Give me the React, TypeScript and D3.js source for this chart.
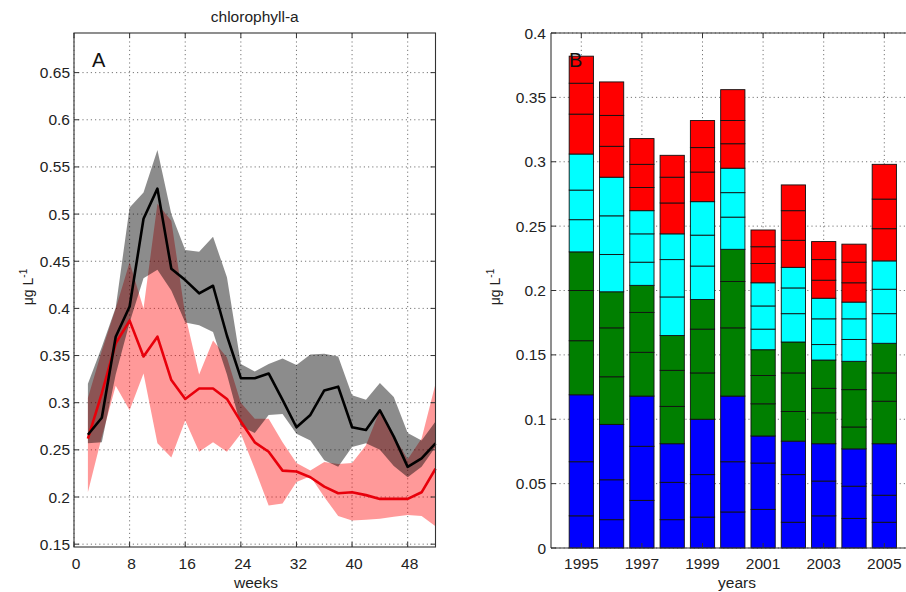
import React from "react";
import * as d3 from "d3";

// ---------- Panel A data (weekly chlorophyll-a) ----------
const weeks = [2, 4, 6, 8, 10, 12, 14, 16, 18, 20, 22, 24, 26, 28, 30, 32, 34, 36, 38, 40, 42, 44, 46, 48, 50, 52];
const blackMean = [0.266, 0.284, 0.370, 0.402, 0.495, 0.527, 0.442, 0.430, 0.416, 0.424, 0.371, 0.326, 0.326, 0.331, 0.303, 0.274, 0.287, 0.313, 0.317, 0.274, 0.271, 0.292, 0.264, 0.232, 0.241, 0.257];
const blackUpper = [0.320, 0.359, 0.401, 0.507, 0.523, 0.568, 0.500, 0.462, 0.460, 0.476, 0.433, 0.341, 0.333, 0.341, 0.347, 0.340, 0.351, 0.352, 0.349, 0.308, 0.303, 0.321, 0.306, 0.268, 0.260, 0.280];
const blackLower = [0.257, 0.258, 0.330, 0.385, 0.432, 0.441, 0.419, 0.385, 0.382, 0.375, 0.330, 0.275, 0.268, 0.287, 0.288, 0.267, 0.260, 0.239, 0.232, 0.253, 0.257, 0.250, 0.233, 0.221, 0.232, 0.253];
const redMean = [0.262, 0.310, 0.363, 0.387, 0.349, 0.370, 0.324, 0.304, 0.315, 0.315, 0.304, 0.280, 0.258, 0.248, 0.228, 0.227, 0.221, 0.211, 0.204, 0.205, 0.202, 0.198, 0.198, 0.198, 0.205, 0.230];
const redUpper = [0.305, 0.355, 0.400, 0.449, 0.400, 0.511, 0.493, 0.393, 0.330, 0.366, 0.348, 0.300, 0.283, 0.283, 0.258, 0.236, 0.228, 0.237, 0.235, 0.236, 0.255, 0.292, 0.265, 0.240, 0.262, 0.320];
const redLower = [0.205, 0.264, 0.318, 0.292, 0.331, 0.257, 0.242, 0.281, 0.248, 0.258, 0.248, 0.267, 0.230, 0.191, 0.193, 0.216, 0.222, 0.200, 0.180, 0.175, 0.176, 0.177, 0.179, 0.181, 0.180, 0.169];

const weekTicks = [0, 8, 16, 24, 32, 40, 48];
const aTicksY = [0.15, 0.2, 0.25, 0.3, 0.35, 0.4, 0.45, 0.5, 0.55, 0.6, 0.65];

// ---------- Panel B data (monthly stacks per year) ----------
const years = [1995, 1996, 1997, 1998, 1999, 2000, 2001, 2002, 2003, 2004, 2005];
const jan = [0.025, 0.022, 0.037, 0.022, 0.024, 0.028, 0.030, 0.020, 0.025, 0.023, 0.020];
const feb = [0.042, 0.031, 0.042, 0.029, 0.033, 0.039, 0.036, 0.037, 0.027, 0.025, 0.021];
const mar = [0.052, 0.043, 0.039, 0.030, 0.043, 0.051, 0.021, 0.026, 0.029, 0.029, 0.040];
const apr = [0.042, 0.037, 0.034, 0.029, 0.036, 0.053, 0.025, 0.023, 0.024, 0.017, 0.033];
const may = [0.039, 0.038, 0.031, 0.028, 0.034, 0.036, 0.022, 0.030, 0.019, 0.029, 0.022];
const jun = [0.030, 0.028, 0.021, 0.027, 0.023, 0.025, 0.020, 0.024, 0.022, 0.022, 0.023];
const jul = [0.025, 0.029, 0.018, 0.030, 0.026, 0.025, 0.016, 0.022, 0.012, 0.017, 0.023];
const aug = [0.023, 0.030, 0.022, 0.029, 0.024, 0.019, 0.018, 0.020, 0.020, 0.016, 0.019];
const sep = [0.028, 0.030, 0.018, 0.020, 0.026, 0.019, 0.018, 0.016, 0.016, 0.013, 0.022];
const oct = [0.031, 0.024, 0.018, 0.024, 0.023, 0.019, 0.015, 0.021, 0.014, 0.015, 0.025];
const nov = [0.024, 0.024, 0.018, 0.020, 0.019, 0.018, 0.013, 0.023, 0.016, 0.016, 0.023];
const dec = [0.021, 0.026, 0.020, 0.017, 0.021, 0.024, 0.013, 0.020, 0.014, 0.014, 0.027];
const months = [jan, feb, mar, apr, may, jun, jul, aug, sep, oct, nov, dec];
const seasonColors = ["#0000ff", "#007f00", "#00ffff", "#ff0000"];

const yearTicks = [1995, 1997, 1999, 2001, 2003, 2005];
const bTicksY = [0, 0.05, 0.1, 0.15, 0.2, 0.25, 0.3, 0.35, 0.4];

const FONT = "'Liberation Sans', Arial, Helvetica, sans-serif";
const fmt = (v: number) => String(+v.toFixed(2));

export default function App() {
  // Panel A geometry
  const aL = 74, aR = 435.5, aT = 33, aB = 547;
  const xA = d3.scaleLinear().domain([0, 52]).range([aL, aR]);
  const yA = d3.scaleLinear().domain([0.147, 0.692]).range([aB, aT]);

  // Panel B geometry
  const bL = 551, bT = 33, bB = 548;
  const xB = d3.scaleLinear().domain([1994, 2006]).range([bL, 914.6]);
  const yB = d3.scaleLinear().domain([0, 0.4]).range([bB, bT]);
  const bR = Math.min(906, xB(2006));

  const idx = weeks.map((_, i) => i);
  const band = (up: number[], lo: number[]) =>
    d3.area<number>().x((i) => xA(weeks[i])).y0((i) => yA(lo[i])).y1((i) => yA(up[i]))(idx) || "";
  const line = (v: number[]) => d3.line<number>().x((i) => xA(weeks[i])).y((i) => yA(v[i]))(idx) || "";

  const table = years.map((y, j) => {
    const row: any = { year: y };
    months.forEach((m, k) => (row["m" + k] = m[j]));
    return row;
  });
  const stack = d3.stack<any>().keys(months.map((_, k) => "m" + k))(table);
  const barW = xB(1994.8) - xB(1994);

  const tick = 5;
  const gridStyle = { stroke: "#777", strokeWidth: 1, strokeDasharray: "1.2,3" };

  return (
    <div style={{ position: "absolute", left: 0, top: 0 }}>
      <svg width={906} height={592} style={{ display: "block", background: "#fff", fontFamily: FONT }}>
        <rect x={0} y={0} width={906} height={592} fill="#fff" />
        {/* ---------- Panel A ---------- */}
        <g>
          {weekTicks.map((t) => (
            <line key={"gx" + t} x1={xA(t)} x2={xA(t)} y1={aT} y2={aB} {...gridStyle} />
          ))}
          {aTicksY.map((t) => (
            <line key={"gy" + t} x1={aL} x2={aR} y1={yA(t)} y2={yA(t)} {...gridStyle} />
          ))}
          <path d={band(redUpper, redLower)} fill="#ff0000" fillOpacity={0.4} />
          <path d={band(blackUpper, blackLower)} fill="#000" fillOpacity={0.45} />
          <path d={line(redMean)} fill="none" stroke="#e8000b" strokeWidth={2.6} strokeLinejoin="round" />
          <path d={line(blackMean)} fill="none" stroke="#000" strokeWidth={2.6} strokeLinejoin="round" />
          <rect x={aL} y={aT} width={aR - aL} height={aB - aT} fill="none" stroke="#333" strokeWidth={1.1} />
          {weekTicks.map((t) => (
            <g key={"tx" + t}>
              <line x1={xA(t)} x2={xA(t)} y1={aB} y2={aB - tick} stroke="#333" />
              <line x1={xA(t)} x2={xA(t)} y1={aT} y2={aT + tick} stroke="#333" />
              <text x={xA(t) + 2} y={569} fontSize={15.5} textAnchor="middle" fill="#222">
                {t}
              </text>
            </g>
          ))}
          {aTicksY.map((t) => (
            <g key={"ty" + t}>
              <line x1={aL} x2={aL + tick} y1={yA(t)} y2={yA(t)} stroke="#333" />
              <line x1={aR} x2={aR - tick} y1={yA(t)} y2={yA(t)} stroke="#333" />
              <text x={70} y={yA(t) + 5.5} fontSize={15.5} textAnchor="end" fill="#222">
                {fmt(t)}
              </text>
            </g>
          ))}
          <text x={(aL + aR) / 2} y={22} fontSize={15.5} textAnchor="middle" fill="#222">
            chlorophyll-a
          </text>
          <text x={92} y={67} fontSize={20} fill="#111">
            A
          </text>
          <text x={256} y={588} fontSize={15.5} textAnchor="middle" fill="#222">
            weeks
          </text>
          <text transform="translate(33,287) rotate(-90)" fontSize={14} textAnchor="middle" fill="#222">
            μg L<tspan dy={-6} fontSize={10}>-1</tspan>
          </text>
        </g>

        {/* ---------- Panel B ---------- */}
        <g>
          {yearTicks.map((t) => (
            <line key={"bgx" + t} x1={xB(t)} x2={xB(t)} y1={bT} y2={bB} {...gridStyle} />
          ))}
          {bTicksY.map((t) => (
            <line key={"bgy" + t} x1={bL} x2={bR} y1={yB(t)} y2={yB(t)} {...gridStyle} />
          ))}
          {stack.map((layer, k) => (
            <g key={"layer" + k}>
              {layer.map((d: any, j: number) => (
                <rect
                  key={j}
                  x={xB(years[j]) - barW / 2}
                  y={yB(d[1])}
                  width={barW}
                  height={yB(d[0]) - yB(d[1])}
                  fill={seasonColors[Math.floor(k / 3)]}
                  stroke="#111"
                  strokeWidth={0.9}
                />
              ))}
            </g>
          ))}
          <line x1={bL} x2={bL} y1={bT} y2={bB} stroke="#333" strokeWidth={1.1} />
          <line x1={bL} x2={bR} y1={bB} y2={bB} stroke="#333" strokeWidth={1.1} />
          <line x1={bL} x2={bR} y1={bT} y2={bT} stroke="#333" strokeWidth={1.1} />
          {yearTicks.map((t) => (
            <g key={"btx" + t}>
              <line x1={xB(t)} x2={xB(t)} y1={bB} y2={bB - tick} stroke="#333" />
              <line x1={xB(t)} x2={xB(t)} y1={bT} y2={bT + tick} stroke="#333" />
              <text x={xB(t)} y={569} fontSize={15.5} textAnchor="middle" fill="#222">
                {t}
              </text>
            </g>
          ))}
          {bTicksY.map((t) => (
            <g key={"bty" + t}>
              <line x1={bL} x2={bL + tick} y1={yB(t)} y2={yB(t)} stroke="#333" />
              <text x={546} y={yB(t) + 5.5} fontSize={15.5} textAnchor="end" fill="#222">
                {fmt(t)}
              </text>
            </g>
          ))}
          <text x={569} y={67} fontSize={20} fill="#111">
            B
          </text>
          <text x={737} y={588} fontSize={15.5} textAnchor="middle" fill="#222">
            years
          </text>
          <text transform="translate(500,287) rotate(-90)" fontSize={14} textAnchor="middle" fill="#222">
            μg L<tspan dy={-6} fontSize={10}>-1</tspan>
          </text>
        </g>
      </svg>
    </div>
  );
}
